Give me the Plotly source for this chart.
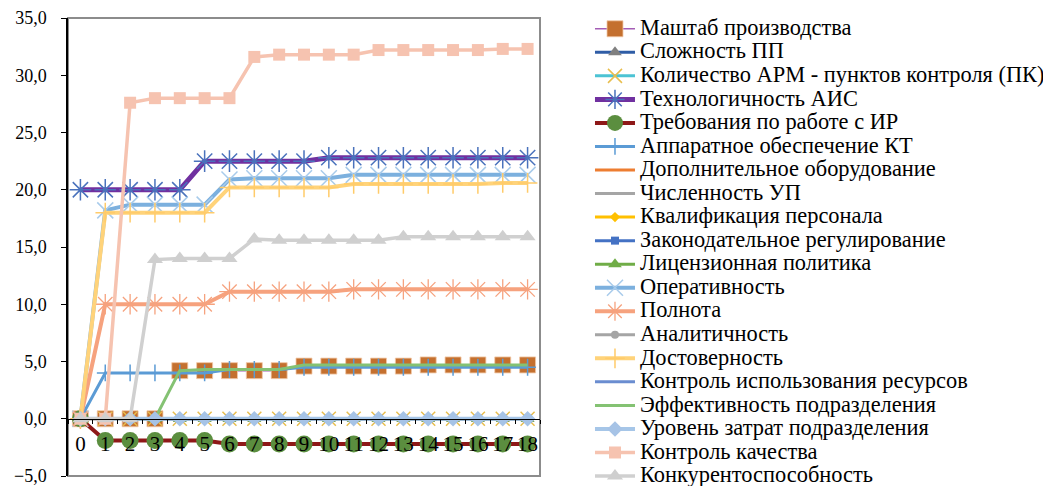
import plotly.graph_objects as go

# ---------------- data ----------------
categories = ["0", "1", "2", "3", "4", "5", "6", "7", "8", "9",
              "10", "11", "12", "13", "14", "15", "16", "17", "18"]

series_names = [
    "Маштаб производства",
    "Сложность ПП",
    "Количество АРМ - пунктов контроля (ПК)",
    "Технологичность АИС",
    "Требования по работе с ИР",
    "Аппаратное обеспечение КТ",
    "Дополнительное оборудование",
    "Численность УП",
    "Квалификация персонала",
    "Законодательное регулирование",
    "Лицензионная политика",
    "Оперативность",
    "Полнота",
    "Аналитичность",
    "Достоверность",
    "Контроль использования ресурсов",
    "Эффективность подразделения",
    "Уровень затрат подразделения",
    "Контроль качества",
    "Конкурентоспособность",
]

masshtab = [0, 0, 0, 0, 4.2, 4.2, 4.2, 4.2, 4.2, 4.6, 4.6, 4.6, 4.6, 4.6, 4.7, 4.7, 4.7, 4.7, 4.7]
slozhnost = [0] * 19
kolichestvo_arm = [0] * 19
tehnologichnost = [20.0, 20.0, 20.0, 20.0, 20.0, 22.5, 22.5, 22.5, 22.5, 22.5, 22.8, 22.8, 22.8, 22.8, 22.8, 22.8, 22.8, 22.8, 22.8]
trebovaniya = [0, -1.9, -1.9, -1.9, -1.9, -1.9, -2.2, -2.2, -2.2, -2.2, -2.2, -2.2, -2.2, -2.2, -2.2, -2.2, -2.2, -2.2, -2.2]
apparatnoe = [0, 4.0, 4.0, 4.0, 4.0, 4.0, 4.3, 4.3, 4.3, 4.5, 4.5, 4.5, 4.5, 4.5, 4.5, 4.5, 4.5, 4.5, 4.5]
dopolnitelnoe = [0] * 19
chislennost = [0] * 19
kvalifikaciya = [0] * 19
zakonodatelnoe = [0] * 19
licenzionnaya = [0] * 19
operativnost = [0, 18.2, 18.7, 18.7, 18.7, 18.7, 20.9, 21.0, 21.0, 21.0, 21.0, 21.3, 21.3, 21.3, 21.3, 21.3, 21.3, 21.3, 21.3]
polnota = [0, 10.0, 10.0, 10.0, 10.0, 10.0, 11.1, 11.1, 11.1, 11.1, 11.1, 11.3, 11.3, 11.3, 11.3, 11.3, 11.3, 11.3, 11.3]
analitichnost = [0] * 19
dostovernost = [0, 18.0, 18.0, 18.0, 18.0, 18.0, 20.2, 20.2, 20.2, 20.2, 20.2, 20.5, 20.5, 20.5, 20.5, 20.5, 20.5, 20.6, 20.6]
kontrol_resursov = [0] * 19
effektivnost = [0, 0, 0, 0, 4.2, 4.3, 4.3, 4.3, 4.3, 4.7, 4.7, 4.7, 4.7, 4.7, 4.7, 4.7, 4.7, 4.7, 4.7]
uroven_zatrat = [0] * 19
kontrol_kachestva = [0, 0, 27.6, 28.0, 28.0, 28.0, 28.0, 31.6, 31.8, 31.8, 31.8, 31.8, 32.2, 32.2, 32.2, 32.2, 32.2, 32.3, 32.3]
konkurentosposobnost = [0, 0, 0, 13.9, 14.0, 14.0, 14.0, 15.7, 15.6, 15.6, 15.6, 15.6, 15.6, 15.9, 15.9, 15.9, 15.9, 15.9, 15.9]

y_ticks = [-5, 0, 5, 10, 15, 20, 25, 30, 35]

series_values = [
    masshtab, slozhnost, kolichestvo_arm, tehnologichnost, trebovaniya,
    apparatnoe, dopolnitelnoe, chislennost, kvalifikaciya, zakonodatelnoe,
    licenzionnaya, operativnost, polnota, analitichnost, dostovernost,
    kontrol_resursov, effektivnost, uroven_zatrat, kontrol_kachestva,
    konkurentosposobnost,
]

# ---------------- styles ----------------
# (line color, line width, marker symbol, marker color, marker size, marker line width, marker line color)
styles = [
    ("#A45DB5", 1.5, "square", "#C4702F", 16, 0.8, "#F2C9A8"),
    ("#2F5DA6", 3, "triangle-up", "#808080", 12, 0, None),
    ("#4CC3D4", 3, "x-thin-open", "#E8BE4E", 14, 1.5, "#E8BE4E"),
    ("#7030A0", 5, "asterisk-open", "#4A72BC", 18, 1.5, "#4A72BC"),
    ("#8E1818", 4, "circle", "#5B8E3F", 17, 0, None),
    ("#5B9BD5", 3, "cross-thin-open", "#5B9BD5", 12, 1.5, "#5B9BD5"),
    ("#ED7D31", 3, None, None, 0, 0, None),
    ("#A5A5A5", 3, None, None, 0, 0, None),
    ("#FFC000", 3, "diamond", "#FFC000", 8, 0, None),
    ("#4472C4", 3, "square", "#4472C4", 8, 0, None),
    ("#70AD47", 3, "triangle-up", "#70AD47", 12, 0, None),
    ("#7CB0DE", 4, "x-thin-open", "#A8CBEB", 16, 1.5, "#A8CBEB"),
    ("#F6A27E", 4, "asterisk-open", "#F6A27E", 17, 1.3, "#F6A27E"),
    ("#A5A5A5", 3, "circle", "#A5A5A5", 8, 0, None),
    ("#FFD37A", 4, "cross-thin-open", "#FFCB6A", 14, 1.5, "#FFCB6A"),
    ("#6A8DD0", 3, None, None, 0, 0, None),
    ("#84C273", 3, None, None, 0, 0, None),
    ("#A6C6E8", 4, "diamond", "#A6C3E6", 12, 0, None),
    ("#F6C3B0", 3.5, "square", "#F6C3B0", 12, 0, None),
    ("#D0D0D0", 3.5, "triangle-up", "#CFCFCF", 14, 0, None),
]

FONT = "Liberation Serif"

fig = go.Figure()

# plot-area frame
fig.add_shape(type="rect", xref="x domain", yref="y domain", x0=0, x1=1, y0=0, y1=1,
              line=dict(color="#8C8C8C", width=2), fillcolor="rgba(0,0,0,0)", layer="below")

for name, vals, st in zip(series_names, series_values, styles):
    lc, lw, sym, mc, ms, mlw, mlc = st
    label = '<span style="font-size:22.4px">' + name + '</span>'
    if sym is None:
        fig.add_trace(go.Scatter(x=categories, y=vals, name=label, mode="lines",
                                 line=dict(color=lc, width=lw)))
    else:
        mline = dict(width=mlw, color=mlc) if mlw else dict(width=0)
        fig.add_trace(go.Scatter(x=categories, y=vals, name=label, mode="lines+markers",
                                 line=dict(color=lc, width=lw),
                                 marker=dict(symbol=sym, color=mc, size=ms, line=mline)))

fig.update_layout(
    width=1043, height=480, autosize=False,
    margin=dict(l=60, r=511, t=10, b=12, autoexpand=False),
    paper_bgcolor="white", plot_bgcolor="white",
    separators=", ",
    font=dict(family=FONT, color="black"),
    showlegend=True,
    legend=dict(x=1.1059, xanchor="left", xref="paper",
                y=0.99167, yanchor="top", yref="container",
                maxheight=480,
                font=dict(family=FONT, size=15.8, color="black"),
                bgcolor="rgba(0,0,0,0)", itemwidth=40, traceorder="normal"),
    xaxis=dict(type="category", categoryorder="array", categoryarray=categories,
               range=[-0.5, 18.5], anchor="free", position=0.125,
               tickmode="array", tickvals=categories, ticktext=categories,
               showline=True, linecolor="black", linewidth=1,
               ticks="outside", tickson="boundaries", ticklen=4, tickcolor="black",
               tickangle=0, ticklabelstandoff=6, ticklabeloverflow="allow",
               showgrid=False, zeroline=False,
               tickfont=dict(family=FONT, size=21, color="black"), automargin=False),
    yaxis=dict(range=[-5, 35], tickmode="array", tickvals=y_ticks, tickformat=".1f",
               showline=True, linecolor="black", linewidth=1.5,
               ticks="outside", ticklen=5, tickcolor="black", ticklabelstandoff=11,
               ticklabeloverflow="allow",
               showgrid=False, zeroline=False,
               tickfont=dict(family=FONT, size=18, color="black"), automargin=False),
)

fig.write_html("out.html")
